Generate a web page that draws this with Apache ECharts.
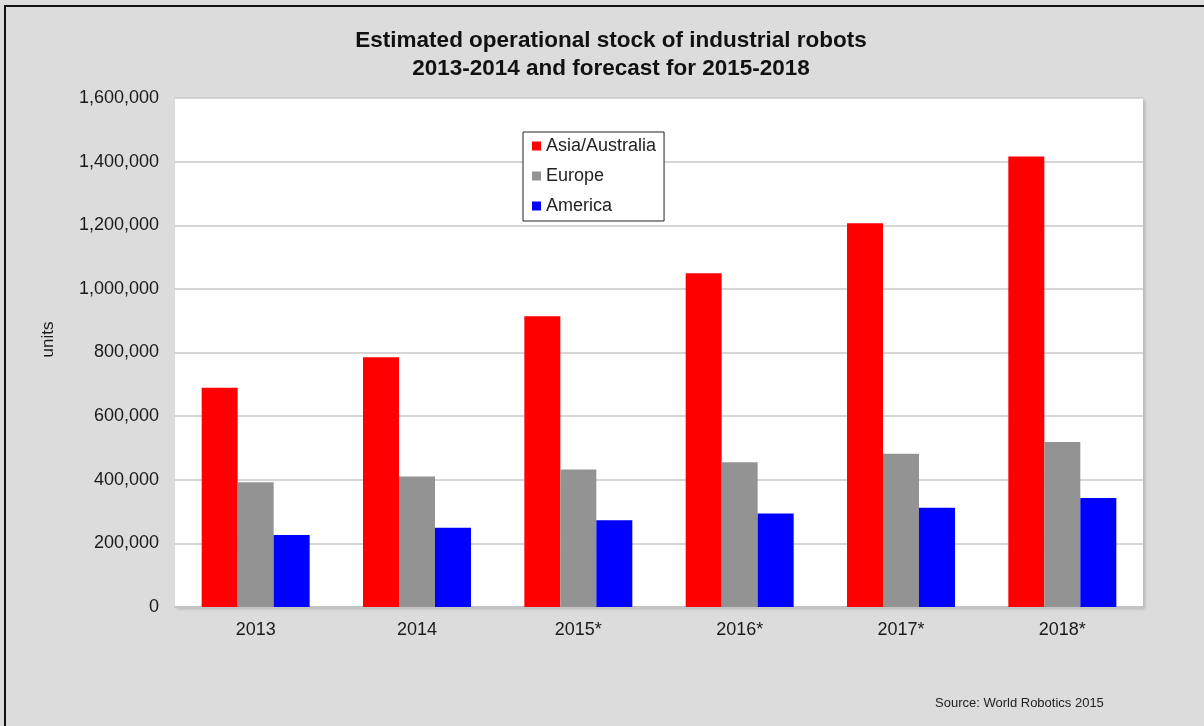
<!DOCTYPE html>
<html>
<head>
<meta charset="utf-8">
<script src="https://cdn.jsdelivr.net/npm/echarts@6/dist/echarts.min.js"></script>
<style>
  html, body { margin: 0; padding: 0; background: #dcdcdc; }
</style>
</head>
<body>
<div id="chart" style="width:1204px;height:726px"></div>
<script>
// data
const years = ['2013', '2014', '2015*', '2016*', '2017*', '2018*']
const asia = [689000, 785000, 914000, 1049000, 1206000, 1416000]
const europe = [392000, 410000, 432000, 455000, 482000, 519000]
const america = [226000, 249000, 273000, 294000, 312000, 343000]
const yTicks = [0, 200000, 400000, 600000, 800000, 1000000, 1200000, 1400000, 1600000]

const font = 'Liberation Sans, Arial, sans-serif'
const chart = echarts.init(document.getElementById('chart'))

chart.setOption({
  backgroundColor: '#dcdcdc',
  animation: false,
  textStyle: {fontFamily: font},
  title: {
    text: 'Estimated operational stock of industrial robots\n2013-2014 and forecast for 2015-2018',
    left: 606,
    top: 22,
    textAlign: 'center',
    textStyle: {fontSize: 22.5, fontWeight: 'bold', color: '#111', lineHeight: 28, fontFamily: font}
  },
  legend: {
    orient: 'vertical',
    left: 523,
    top: 132,
    padding: [5, 8, 6, 9],
    backgroundColor: '#fff',
    borderColor: '#222',
    borderWidth: 1,
    icon: 'rect',
    itemWidth: 9,
    itemHeight: 9,
    itemGap: 12,
    textStyle: {fontSize: 18, color: '#222', fontFamily: font}
  },
  grid: {
    left: 175,
    right: 61,
    top: 98,
    bottom: 119,
    show: true,
    backgroundColor: '#fff',
    borderWidth: 0,
    shadowColor: 'rgba(0,0,0,0.18)',
    shadowBlur: 3,
    shadowOffsetX: 2,
    shadowOffsetY: 2
  },
  xAxis: {
    type: 'category',
    data: years,
    axisTick: {show: false},
    axisLine: {lineStyle: {color: '#c4c4c4', width: 2}},
    axisLabel: {fontSize: 18, color: '#1a1a1a', margin: 14}
  },
  yAxis: {
    type: 'value',
    min: yTicks[0],
    max: yTicks[yTicks.length - 1],
    interval: yTicks[1] - yTicks[0],
    name: 'units',
    nameLocation: 'middle',
    nameGap: 118,
    nameTextStyle: {fontSize: 17, color: '#1a1a1a', padding: [0, 0, 0, 26]},
    axisLine: {show: false},
    axisTick: {show: false},
    splitLine: {lineStyle: {color: '#c8c8c8', width: 1.5}},
    axisLabel: {
      fontSize: 18,
      color: '#1a1a1a',
      margin: 16,
      formatter: (v) => v.toLocaleString('en-US')
    }
  },
  series: [
    {name: 'Asia/Australia', type: 'bar', data: asia, barWidth: 36, barGap: '0%', itemStyle: {color: '#ff0000'}},
    {name: 'Europe', type: 'bar', data: europe, barWidth: 36, barGap: '0%', itemStyle: {color: '#939393'}},
    {name: 'America', type: 'bar', data: america, barWidth: 36, barGap: '0%', itemStyle: {color: '#0000ff'}}
  ],
  graphic: [
    { // outer frame
      type: 'rect',
      shape: {x: 5, y: 6, width: 1300, height: 900},
      style: {fill: null, stroke: '#111', lineWidth: 2},
      silent: true
    },
    {
      type: 'text',
      left: 935,
      top: 697,
      style: {text: 'Source: World Robotics 2015', font: '13px ' + font, fill: '#222'}
    }
  ]
})
</script>
</body>
</html>
